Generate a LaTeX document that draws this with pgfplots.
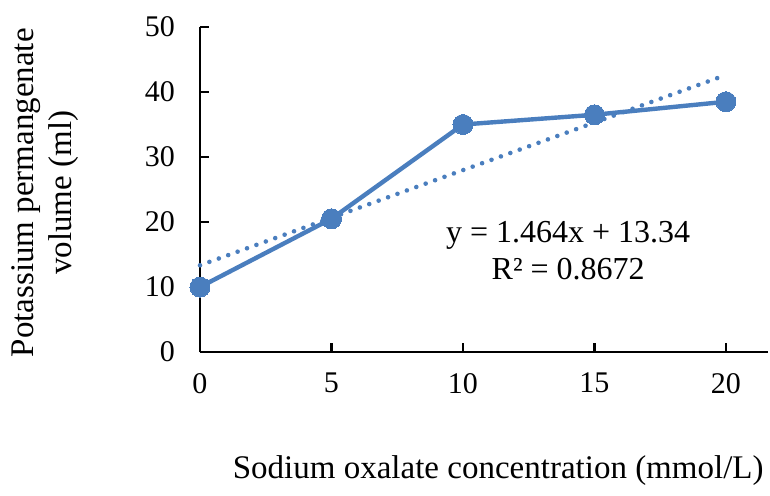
\documentclass[border=0pt]{standalone}
\usepackage{pgfplots}
\pgfplotsset{compat=1.18}
\usepackage{fontspec}
\setmainfont{Liberation Serif}
\definecolor{xlblue}{RGB}{74,126,190}

\begin{document}
\begin{tikzpicture}
\begin{axis}[
    scale only axis,
    width=284pt, height=162.5pt,
    xmin=0, xmax=21.6, ymin=0, ymax=50,
    xtick={0,5,10,15,20}, ytick={0,10,20,30,40,50},
    axis lines*=left,
    axis line style={black, line width=1.3pt},
    tick style={black, line width=1.2pt},
    tick align=inside,
    major tick length=4.5pt,
    clip=false,
    font=\fontsize{15}{18.5}\selectfont,
    /pgf/number format/assume math mode=true,
    xticklabel style={yshift=-7pt},
    yticklabel style={xshift=-9pt},
    xlabel={Sodium oxalate concentration (mmol/L)},
    xlabel style={font=\fontsize{16.5}{19}\selectfont,
                  at={(axis description cs:0.525,-0.365)}, anchor=center},
    ylabel={Potassium permangenate\\volume (ml)},
    ylabel style={font=\fontsize{16.5}{19}\selectfont, align=center,
                  at={(axis description cs:-0.273,0.49)}, anchor=center},
]
% measured points
\addplot[color=xlblue, line width=2.2pt, mark=*, mark size=5pt,
         mark options={fill=xlblue, draw=xlblue, line width=0pt}]
    coordinates {
        (0,10)
        (5,20.5)
        (10,35)
        (15,36.5)
        (20,38.5)
    };
% linear trendline  y = 1.464x + 13.34
\addplot[color=xlblue, line width=2.3pt, line cap=round,
         dash pattern=on 0pt off 5pt]
    coordinates {
        (0,13.34)
        (20,42.62)
    };
\node[align=center, font=\fontsize{16}{18.5}\selectfont]
    at (axis cs:14.0,15.6) {y = 1.464x + 13.34\\R² = 0.8672};
\end{axis}
\pgfresetboundingbox
\path (-100pt,-71.5pt) rectangle (285pt,176pt);
\end{tikzpicture}
\end{document}
